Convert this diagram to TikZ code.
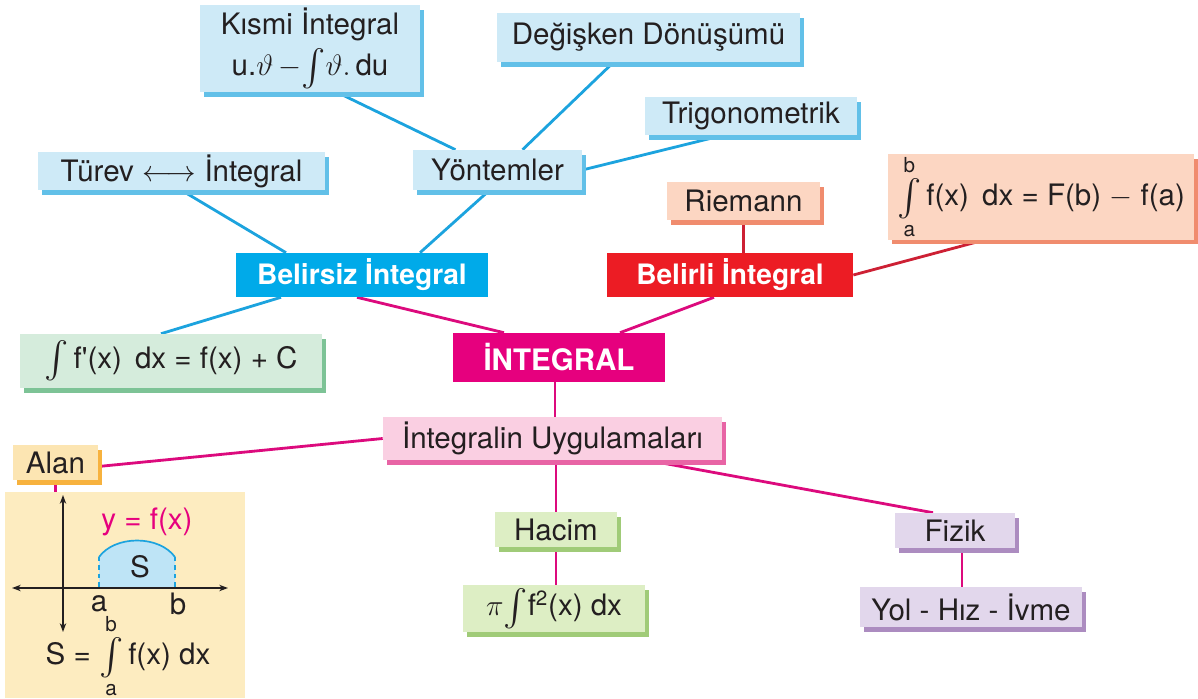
\RequirePackage{fix-cm}
\documentclass[tikz,border=0pt]{standalone}
\usepackage{amsmath}
\usepackage{graphicx}
\usepackage{fontspec}
\setmainfont{TeX Gyre Heros}
\usetikzlibrary{calc,shadows,backgrounds,arrows.meta}
\definecolor{ink}{RGB}{35,31,32}
\definecolor{blueF}{RGB}{206,234,247}\definecolor{blueS}{RGB}{98,192,232}
\definecolor{peachF}{RGB}{252,214,194}\definecolor{peachS}{RGB}{240,140,110}
\definecolor{mintF}{RGB}{213,236,220}\definecolor{mintS}{RGB}{125,195,150}
\definecolor{pinkF}{RGB}{250,207,226}\definecolor{pinkS}{RGB}{232,100,165}
\definecolor{sandF}{RGB}{252,229,178}\definecolor{sandS}{RGB}{247,178,62}
\definecolor{limeF}{RGB}{221,238,196}\definecolor{limeS}{RGB}{160,203,120}
\definecolor{lilacF}{RGB}{226,215,236}\definecolor{lilacS}{RGB}{172,140,192}
\definecolor{panelF}{RGB}{253,236,192}
\definecolor{cyanH}{RGB}{0,170,233}\definecolor{redH}{RGB}{236,28,36}
\definecolor{magH}{RGB}{230,0,126}
\definecolor{bline}{RGB}{28,163,222}\definecolor{rline}{RGB}{205,32,52}
\definecolor{mline}{RGB}{220,10,125}
\definecolor{areaF}{RGB}{190,228,246}
\newcommand\Lint{\mathop{\vcenter{\hbox{\scalebox{1.25}{$\int$}}}}}
\begin{document}
\begin{tikzpicture}[x=0.025cm,y=-0.025cm,
  every node/.style={font=\fontsize{21}{26}\selectfont,text=ink,inner sep=0pt},
  sbox/.style={fill=#1F,drop shadow={shadow xshift=0.1cm,shadow yshift=-0.12cm,fill=#1S,opacity=1}},
  hub/.style={fill=#1,text=white,font=\bfseries\fontsize{20}{25}\selectfont},
  bl/.style={draw=bline,line width=2pt},
  rl/.style={draw=rline,line width=2pt},
  ml/.style={draw=mline,line width=2pt},
  axis/.style={draw=ink,line width=0.9pt,{Stealth[length=2.2mm,width=1.6mm]}-{Stealth[length=2.2mm,width=1.6mm]}}]
\useasboundingbox (0,0) rectangle (1198,698);
% belirsiz integral side
\node[sbox=blue,minimum width=5.5cm,minimum height=2.175cm,align=center] (kismi) at (310,48.5)
  {Kısmi İntegral\\[3pt]u.$\vartheta\,{-}\!\Lint\!\vartheta.$\,du};
\node[sbox=blue,minimum width=7.575cm,minimum height=1.225cm] (degisken) at (648.5,37.5) {Değişken Dönüşümü};
\node[sbox=blue,minimum width=5.3cm,minimum height=0.95cm] (trigo) at (751,116) {Trigonometrik};
\node[sbox=blue,minimum width=4.225cm,minimum height=1cm] (yontem) at (497.5,170) {Yöntemler};
\node[sbox=blue,minimum width=7.175cm,minimum height=0.95cm] (turev) at (181.5,171) {Türev $\longleftrightarrow$ İntegral};
\node[hub=cyanH,minimum width=6.3cm,minimum height=1.1cm] (belirsiz) at (362,275) {Belirsiz İntegral};
\node[sbox=mint,minimum width=7.55cm,minimum height=1.35cm] (fprime) at (171,361)
  {$\Lint$\,f\textquotesingle(x)\ \,dx = f(x) + C};
% belirli integral side
\node[sbox=peach,minimum width=3.825cm,minimum height=0.95cm] (riemann) at (743.5,201) {Riemann};
\node[sbox=peach,minimum width=7.65cm,minimum height=2cm] (defint) at (1041,197)
  {$\Lint\limits_{\text{a}}^{\text{b}}$\,f(x)\ \,dx = F(b) $-$ f(a)};
\node[hub=redH,minimum width=6.15cm,minimum height=1.1cm] (belirli) at (730,275) {Belirli İntegral};
% center
\node[hub=magH,font=\bfseries\fontsize{21}{25}\selectfont,minimum width=5.3cm,minimum height=1.225cm] (integral) at (559,357.5) {İNTEGRAL};
\node[sbox=pink,minimum width=8.475cm,minimum height=1.075cm] (uyg) at (552.5,438.5) {İntegralin Uygulamaları};
% uygulamalar
\node[sbox=sand,minimum width=2.125cm,minimum height=0.875cm] (alan) at (55.5,462.5) {Alan};
\node[fill=panelF,minimum width=6cm,minimum height=5.15cm] (alanpanel) at (125,595) {};
\node[sbox=lime,minimum width=3.05cm,minimum height=0.875cm] (hacim) at (556,529.5) {Hacim};
\node[sbox=lime,minimum width=4.55cm,minimum height=1.175cm] (hacimf) at (554,608.5)
  {$\pi\!\Lint\!$\,f\textsuperscript{2}(x) dx};
\node[sbox=lilac,minimum width=3cm,minimum height=0.875cm] (fizik) at (955,530.5) {Fizik};
\node[sbox=lilac,minimum width=5.55cm,minimum height=1cm] (yol) at (971,607) {Yol - Hız - İvme};
% area sketch
\fill[areaF] (99,588) -- (99,557) .. controls (115,535) and (159,535) .. (175,557) -- (175,588) -- cycle;
\draw[draw=bline,line width=1.2pt] (99,557) .. controls (115,535) and (159,535) .. (175,557);
\draw[draw=bline,line width=1.2pt,dashed] (99,557) -- (99,588) (175,557) -- (175,588);
\draw[axis] (12,588) -- (228,588);
\draw[axis] (63,495) -- (63,632);
\node[text=magH] (yfx) at (147,522) {y = f(x)};
\node (slbl) at (140,567) {S};
\node (albl) at (99,604) {a};
\node (blbl) at (178,604) {b};
\node (sform) at (128,656) {S = $\Lint\limits_{\text{a}}^{\text{b}}$\,f(x) dx};
% connectors
\begin{scope}[on background layer]
\draw[bl] ($(kismi.south)+(27,0)$) -- ($(yontem.north)+(-42,0)$);
\draw[bl] ($(degisken.south)+(-35,0)$) -- ($(yontem.north)+(25,0)$);
\draw[bl] ($(trigo.south)+(-28,0)$) -- (yontem.east);
\draw[bl] (turev.south) -- ($(belirsiz.north)+(-76,0)$);
\draw[bl] ($(yontem.south)+(-8,0)$) -- ($(belirsiz.north)+(58,0)$);
\draw[bl] ($(belirsiz.south)+(-81,0)$) -- ($(fprime.north)+(-10,0)$);
\draw[rl] (riemann.south) -- (riemann.south |- belirli.north);
\draw[rl] (belirli.east) -- ($(defint.south)+(-56,0)$);
\draw[ml] ($(belirsiz.south)+(-5,0)$) -- ($(integral.north)+(-55,0)$);
\draw[ml] ($(belirli.south)+(-16,0)$) -- ($(integral.north)+(61,0)$);
\draw[ml] ($(integral.south)+(-4,0)$) -- ($(integral.south |- uyg.north)+(-4,0)$);
\draw[ml] (uyg.west) -- ($(alan.east)+(0,4)$);
\draw[ml] (alan.south) -- (alan.south |- alanpanel.north);
\draw[ml] (hacim.north |- uyg.south) -- (hacim.north);
\draw[ml] (hacim.south) -- (hacim.south |- hacimf.north);
\draw[ml] ($(uyg.south)+(95,0)$) -- ($(fizik.north)+(-22,0)$);
\draw[ml] ($(fizik.south)+(7,0)$) -- ($(fizik.south |- yol.north)+(7,0)$);
\end{scope}
\end{tikzpicture}
\end{document}
